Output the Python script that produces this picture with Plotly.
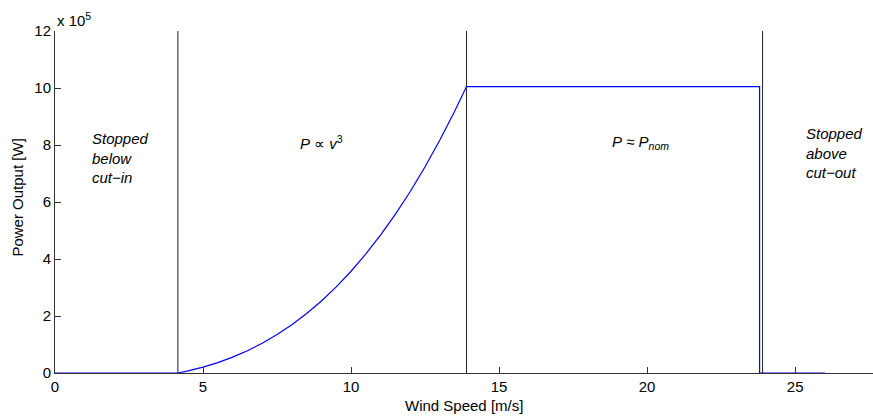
import plotly.graph_objects as go

# ---- data ----
wind_speed = [0, 4.15, 4.5, 5.0, 5.5, 6.0, 6.5, 7.0, 7.5, 8.0, 8.5, 9.0, 9.5, 10.0,
              10.5, 11.0, 11.5, 12.0, 12.5, 13.0, 13.5, 13.9, 23.8, 23.8, 26.0]
power_w = [0, 0, 7.6e3, 20.6e3, 36.5e3, 55.6e3, 78.1e3, 104.4e3, 134.7e3, 169.4e3,
           208.7e3, 252.8e3, 302.2e3, 357.0e3, 417.6e3, 484.3e3, 557.3e3, 636.9e3,
           723.5e3, 817.3e3, 918.5e3, 1005e3, 1005e3, 0, 0]

region_bounds = [4.15, 13.9, 23.9]        # cut-in, rated, cut-out speeds
y_max = 1.2e6
x_ticks = [0, 5, 10, 15, 20, 25]
y_ticks = [0, 2e5, 4e5, 6e5, 8e5, 10e5, 12e5]
y_tick_text = ["0", "2", "4", "6", "8", "10", "12"]

region_labels = ["<i>Stopped<br>below<br>cut−in</i>",
                 "<i>P</i> ∝ <i>v</i><sup>3</sup>",
                 "<i>P</i> ≈ <i>P</i><sub><i>nom</i></sub>",
                 "<i>Stopped<br>above<br>cut−out</i>"]
label_x = [1.18, 8.2, 18.75, 25.3]
label_y = [7.54e5, 8.1e5, 8.1e5, 7.72e5]

FONT = "Liberation Sans, Arial, Helvetica, sans-serif"

fig = go.Figure()

vx, vy = [], []
for b in region_bounds:
    vx += [b, b, None]
    vy += [0, y_max, None]
fig.add_trace(go.Scatter(x=vx, y=vy, mode="lines",
                         line=dict(color="#222222", width=1), hoverinfo="skip",
                         showlegend=False))
fig.add_trace(go.Scatter(x=wind_speed, y=power_w, mode="lines",
                         line=dict(color="#0000ff", width=1.2), showlegend=False))

for txt, x, y in zip(region_labels, label_x, label_y):
    fig.add_annotation(x=x, y=y, xref="x", yref="y", text=txt, showarrow=False,
                       xanchor="left", yanchor="middle", align="left",
                       font=dict(family=FONT, size=15, color="black"))

# exponent label
fig.add_annotation(x=0, y=1, xref="paper", yref="paper", text="x 10<sup>5</sup>",
                   showarrow=False, xanchor="left", yanchor="bottom", yshift=0,
                   font=dict(family=FONT, size=15, color="black"))
# axis titles
fig.add_annotation(x=0.5, y=-0.0936, xref="paper", yref="paper",
                   text="Wind Speed [m/s]", showarrow=False,
                   xanchor="center", yanchor="middle",
                   font=dict(family=FONT, size=15, color="black"))
fig.add_annotation(x=-0.0452, y=0.513, xref="paper", yref="paper",
                   text="Power Output [W]", showarrow=False, textangle=-90,
                   xanchor="center", yanchor="middle",
                   font=dict(family=FONT, size=15, color="black"))

fig.update_layout(
    width=873, height=416,
    margin=dict(l=55, r=0, t=31, b=43),
    plot_bgcolor="white", paper_bgcolor="white",
    font=dict(family=FONT, size=15, color="black"),
)
fig.update_xaxes(range=[0, 27.63], tickvals=x_ticks, ticks="inside", ticklen=6,
                 tickcolor="#333333", showline=True, linecolor="#333333", linewidth=1,
                 showgrid=False, zeroline=False, mirror=False,
                 tickfont=dict(family=FONT, size=15, color="black"))
fig.update_yaxes(range=[0, y_max], tickvals=y_ticks, ticktext=y_tick_text,
                 ticks="inside", ticklen=6, tickcolor="#333333", showline=True,
                 linecolor="#333333", linewidth=1, showgrid=False, zeroline=False,
                 mirror=False, tickfont=dict(family=FONT, size=15, color="black"))

fig.write_html("out.html")
